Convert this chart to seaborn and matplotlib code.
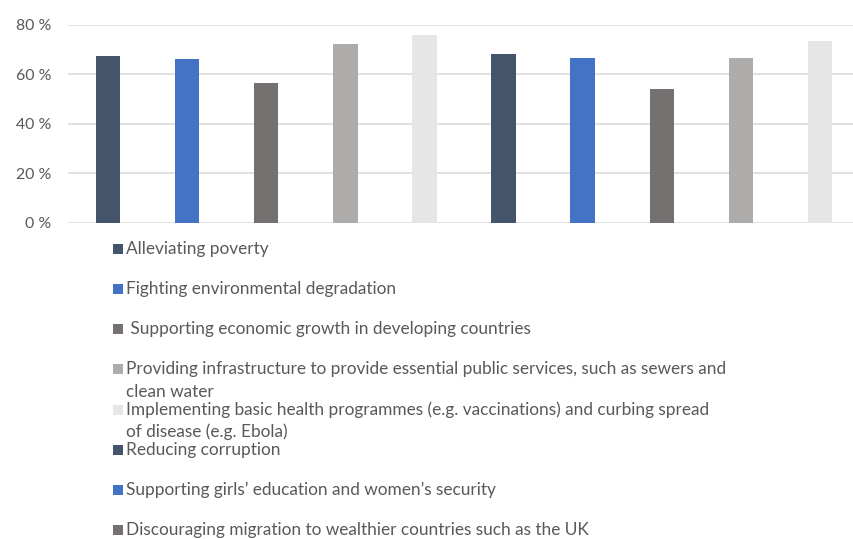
import matplotlib
matplotlib.use("Agg")
import matplotlib.pyplot as plt
from matplotlib.patches import Rectangle
import seaborn as sns
import pandas as pd

# Share of respondents (%) rating each aid priority as important
values = [67.5, 66.1, 56.3, 72.0, 75.7, 68.1, 66.4, 53.9, 66.6, 73.3]
bar_colors = ["#44546A", "#4472C4", "#767171", "#AEABAB", "#E7E6E6",
              "#44546A", "#4472C4", "#767171", "#AEABAB", "#E7E6E6"]
legend_labels = [
    "Alleviating poverty",
    "Fighting environmental degradation",
    " Supporting economic growth in developing countries",
    "Providing infrastructure to provide essential public services, such as sewers and\nclean water",
    "Implementing basic health programmes (e.g. vaccinations) and curbing spread\nof disease (e.g. Ebola)",
    "Reducing corruption",
    "Supporting girls\u2019 education and women\u2019s security",
    "Discouraging migration to wealthier countries such as the UK",
]
y_ticks = [0, 20, 40, 60, 80]
y_tick_labels = ["0 %", "20 %", "40 %", "60 %", "80 %"]

W, H = 854, 539
sns.set_theme(style="white")
plt.rcParams["font.family"] = ["Lato", "DejaVu Sans"]
text_color = "#595959"

fig = plt.figure(figsize=(W / 100, H / 100), dpi=100)
ax = fig.add_axes([68.4 / W, 1 - 222.7 / H, (859.6 - 68.4) / W, (222.7 - 24.7) / H])

df = pd.DataFrame({"pos": list(range(len(values))), "value": values})
sns.barplot(data=df, x="pos", y="value", hue="pos", palette=bar_colors,
            legend=False, width=0.31, saturation=1, ax=ax, linewidth=0)

ax.set_ylim(0, 80)
ax.set_yticks(y_ticks)
ax.set_yticklabels(y_tick_labels, fontsize=11.4, color=text_color)
ax.set_xticks([])
ax.set_xlabel("")
ax.set_ylabel("")
ax.tick_params(axis="y", length=0, pad=12.3)
ax.yaxis.grid(True, color="#D9D9D9", linewidth=1.1)
ax.set_axisbelow(True)
for s in ax.spines.values():
    s.set_visible(False)

# Legend listed beneath the plot, one entry per row
row0, row_gap, line_gap = 254.0, 40.15, 22.4
for k, label in enumerate(legend_labels):
    base = row0 + k * row_gap
    fig.add_artist(Rectangle((112.7 / W, 1 - base / H), 10.3 / W, 10.0 / H,
                             transform=fig.transFigure, facecolor=bar_colors[k],
                             edgecolor="none"))
    for j, line in enumerate(label.split("\n")):
        fig.text(126 / W, 1 - (base + j * line_gap) / H, line, fontsize=12.4,
                 color=text_color, ha="left", va="baseline")

fig.savefig("out.png", dpi=100)
